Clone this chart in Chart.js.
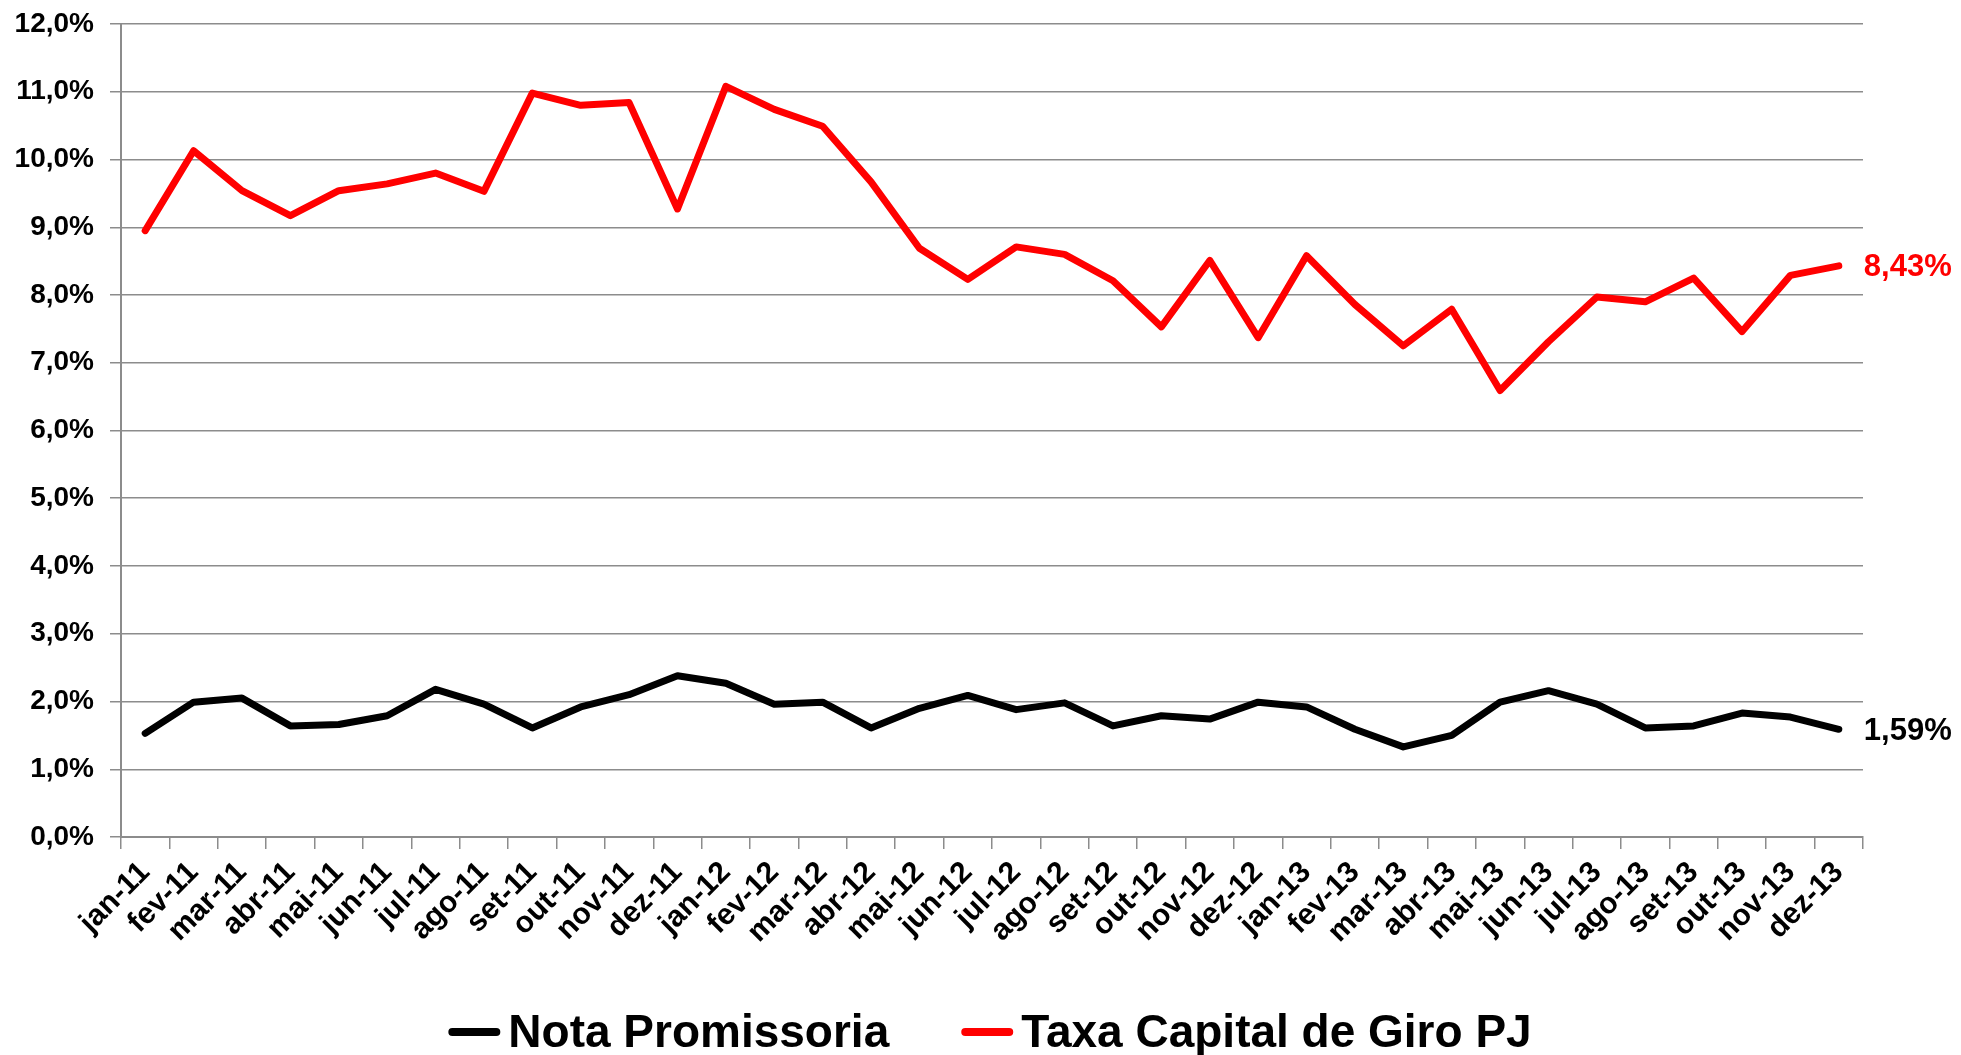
<!DOCTYPE html>
<html>
<head>
<meta charset="utf-8">
<script src="https://cdn.jsdelivr.net/npm/chart.js@4/dist/chart.umd.min.js"></script>
<style>
  html, body { margin: 0; padding: 0; background: #fff; }
  #wrap { width: 1961px; height: 1055px; }
</style>
</head>
<body>
<div id="wrap"><canvas id="chart" width="1961" height="1055"></canvas></div>
<script>
// Monthly labels, jan-11 .. dez-13
const months = ['jan', 'fev', 'mar', 'abr', 'mai', 'jun', 'jul', 'ago', 'set', 'out', 'nov', 'dez'];
const labels = [];
['11', '12', '13'].forEach(y => months.forEach(m => labels.push(m + '-' + y)));

// Values in %
const notaPromissoria = [
  1.53, 1.99, 2.05, 1.64, 1.66, 1.79, 2.18, 1.96, 1.61, 1.92, 2.10, 2.38,
  2.27, 1.96, 1.99, 1.61, 1.90, 2.09, 1.88, 1.98, 1.64, 1.79, 1.74, 1.99,
  1.92, 1.59, 1.33, 1.50, 1.99, 2.16, 1.96, 1.61, 1.64, 1.83, 1.77, 1.59
];
const capitalGiro = [
  8.95, 10.13, 9.54, 9.17, 9.54, 9.64, 9.80, 9.53, 10.98, 10.80, 10.84, 9.27,
  11.08, 10.74, 10.49, 9.67, 8.69, 8.23, 8.71, 8.60, 8.21, 7.53, 8.51, 7.37,
  8.58, 7.86, 7.25, 7.79, 6.59, 7.31, 7.97, 7.90, 8.25, 7.46, 8.29, 8.43
];

const FONT = '"Liberation Sans", Arial, sans-serif';
const GRID = '#8c8c8c';

const fmt = v => v.toFixed(1).replace('.', ',') + '%';

// Writes the last value next to the end of each line
const endLabels = {
  id: 'endLabels',
  afterDatasetsDraw(chart) {
    const ctx = chart.ctx;
    ctx.save();
    ctx.font = 'bold 31px ' + FONT;
    ctx.textBaseline = 'middle';
    ctx.textAlign = 'left';
    chart.data.datasets.forEach((ds, i) => {
      const meta = chart.getDatasetMeta(i);
      const pt = meta.data[meta.data.length - 1];
      const v = ds.data[ds.data.length - 1];
      ctx.fillStyle = ds.borderColor;
      ctx.fillText(v.toFixed(2).replace('.', ',') + '%', pt.x + 25, pt.y + 2);
    });
    ctx.restore();
  }
};

// Legend below the axis, line sample close to the text like the original
const bottomLegend = {
  id: 'bottomLegend',
  afterDraw(chart) {
    const ctx = chart.ctx;
    const lineW = 52, gap = 8, itemGap = 72, centerX = 990, y = 1032;
    ctx.save();
    ctx.font = 'bold 46px ' + FONT;
    ctx.textBaseline = 'middle';
    ctx.textAlign = 'left';
    const items = chart.data.datasets.map(ds => ({
      text: ds.label, color: ds.borderColor, w: ctx.measureText(ds.label).width
    }));
    const total = items.reduce((s, it) => s + lineW + gap + it.w, 0) + itemGap * (items.length - 1);
    let x = centerX - total / 2;
    items.forEach(it => {
      ctx.strokeStyle = it.color;
      ctx.lineWidth = 8;
      ctx.lineCap = 'round';
      ctx.beginPath();
      ctx.moveTo(x + 4, y);
      ctx.lineTo(x + lineW - 4, y);
      ctx.stroke();
      ctx.fillStyle = '#000';
      ctx.fillText(it.text, x + lineW + gap, y + 2);
      x += lineW + gap + it.w + itemGap;
    });
    ctx.restore();
  }
};

new Chart(document.getElementById('chart'), {
  type: 'line',
  data: {
    labels: labels,
    datasets: [{
      label: 'Nota Promissoria',
      data: notaPromissoria,
      borderColor: '#000000',
      backgroundColor: '#000000',
      borderWidth: 7,
      pointRadius: 0,
      tension: 0,
      borderJoinStyle: 'round',
      borderCapStyle: 'round'
    }, {
      label: 'Taxa Capital de Giro PJ',
      data: capitalGiro,
      borderColor: '#ff0000',
      backgroundColor: '#ff0000',
      borderWidth: 7,
      pointRadius: 0,
      tension: 0,
      borderJoinStyle: 'round',
      borderCapStyle: 'round'
    }]
  },
  options: {
    responsive: false,
    devicePixelRatio: 1,
    animation: false,
    layout: {
      autoPadding: false,
      padding: { left: 0, right: 98, top: 24, bottom: 70 }
    },
    scales: {
      x: {
        offset: true,
        grid: {
          offset: true,
          drawOnChartArea: false,
          color: GRID,
          lineWidth: 1.5,
          tickLength: 12
        },
        border: { color: GRID, width: 2 },
        ticks: {
          autoSkip: false,
          minRotation: 45,
          maxRotation: 45,
          padding: 6,
          color: '#000',
          font: { family: FONT, size: 30, weight: 'bold' }
        },
        afterFit(scale) {
          scale.height = 148;
          scale.paddingLeft = 0;
          scale.paddingRight = 0;
        }
      },
      y: {
        min: 0,
        max: 12,
        grid: {
          color: GRID,
          lineWidth: 1.5,
          tickLength: 11
        },
        border: { color: GRID, width: 2 },
        ticks: {
          stepSize: 1,
          padding: 16,
          color: '#000',
          font: { family: FONT, size: 28, weight: 'bold' },
          callback: v => fmt(v)
        },
        afterFit(scale) {
          scale.width = 121;
          scale.paddingTop = 0;
          scale.paddingBottom = 0;
        }
      }
    },
    plugins: {
      legend: { display: false },
      tooltip: { enabled: false }
    }
  },
  plugins: [endLabels, bottomLegend]
});
</script>
</body>
</html>
